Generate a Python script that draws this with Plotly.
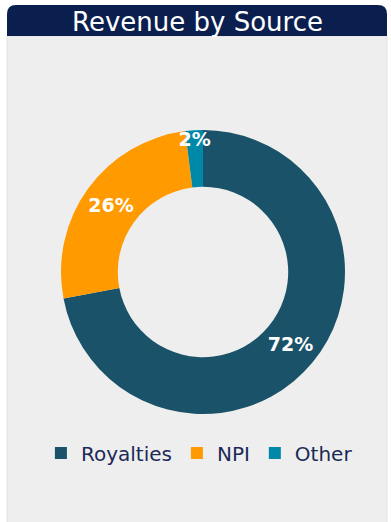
import plotly.graph_objects as go

W, H = 391, 522

categories = ["Royalties", "NPI", "Other"]
values = [72, 26, 2]
colors = ["#1a5269", "#ff9a00", "#0088a8"]
title_text = "Revenue by Source"

def px(x):
    return x / W

def py(y):
    return 1 - y / H

fig = go.Figure()
fig.add_trace(go.Pie(
    labels=categories,
    values=values,
    hole=0.6,
    sort=False,
    direction="clockwise",
    rotation=0,
    marker=dict(colors=colors, line=dict(width=0)),
    textinfo="percent",
    texttemplate="%{percent:.0%}",
    textposition="inside",
    insidetextorientation="horizontal",
    textfont=dict(family="DejaVu Sans", size=19, color="white", weight="bold"),
    hoverinfo="skip",
    domain=dict(x=[px(203 - 142), px(203 + 142)], y=[py(414), py(130)]),
))

# panel and title bar
L, R, T, B = 7, 387, 5, 530
Tb = 36
r = 9
bar_path = (
    f"M {px(L)},{py(Tb)} L {px(L)},{py(T + r)} Q {px(L)},{py(T)} {px(L + r)},{py(T)} "
    f"L {px(R - r)},{py(T)} Q {px(R)},{py(T)} {px(R)},{py(T + r)} L {px(R)},{py(Tb)} Z"
)
fig.update_layout(
    shapes=[
        dict(type="rect", xref="paper", yref="paper", x0=px(L), x1=px(R), y0=py(B), y1=py(Tb),
             fillcolor="#eeeeee", line=dict(color="#e2e2e2", width=1), layer="below"),
        dict(type="path", xref="paper", yref="paper", path=bar_path,
             fillcolor="#0b1f4f", line=dict(width=0), layer="below"),
    ],
    annotations=[
        dict(text=title_text, xref="paper", yref="paper", x=px(197), y=py(22),
             xanchor="center", yanchor="middle", showarrow=False,
             font=dict(family="DejaVu Sans", size=26, color="white")),
    ],
    width=W, height=H,
    margin=dict(l=0, r=0, t=0, b=0),
    paper_bgcolor="white",
    plot_bgcolor="white",
    uniformtext=dict(minsize=19, mode="show"),
    showlegend=True,
    legend=dict(orientation="h", x=0.51, xanchor="center", y=py(453), yanchor="middle",
                font=dict(family="DejaVu Sans", size=20, color="#1b2a57"),
                bgcolor="rgba(0,0,0,0)", itemclick=False, itemdoubleclick=False),
)

fig.write_html("out.html")
